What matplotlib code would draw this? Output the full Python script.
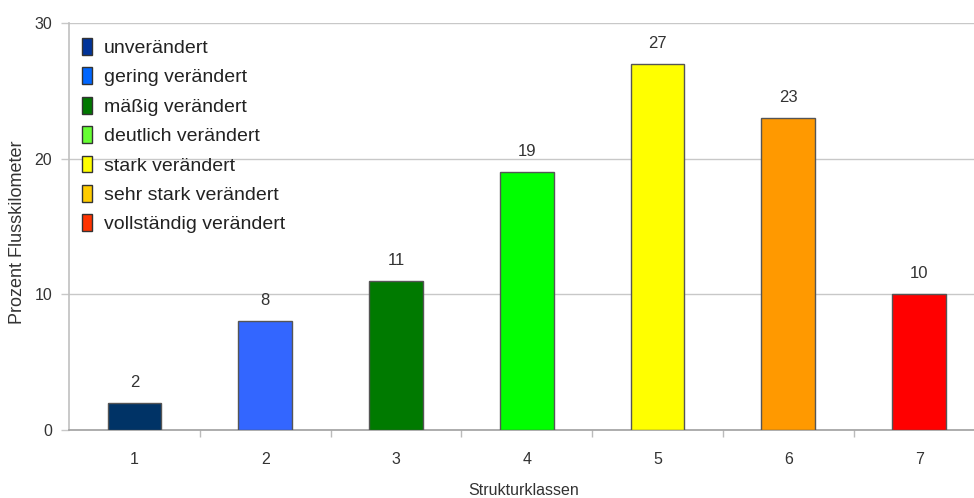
import matplotlib
matplotlib.use("Agg")
import matplotlib.pyplot as plt
from matplotlib.patches import Patch
import numpy as np

categories = [1, 2, 3, 4, 5, 6, 7]
values = [2, 8, 11, 19, 27, 23, 10]
bar_colors = ["#003366", "#3366ff", "#007a00", "#00ff00", "#ffff00", "#ff9900", "#ff0000"]
legend_labels = ["unverändert", "gering verändert", "mäßig verändert", "deutlich verändert",
                 "stark verändert", "sehr stark verändert", "vollständig verändert"]
legend_colors = ["#003399", "#0066ff", "#007700", "#66ff33", "#ffff00", "#ffcc00", "#ff3300"]
yticks = [0, 10, 20, 30]

plt.rcParams['font.family'] = ['Liberation Sans', 'DejaVu Sans']

fig = plt.figure(figsize=(9.74, 4.98), dpi=100)
ax = fig.add_axes([69/974, 1-430/498, 1-69/974, (430-23)/498])

ax.bar(categories, values, width=0.41, color=bar_colors, edgecolor="#555555",
       linewidth=1.0, zorder=3)

for x, v in zip(categories, values):
    ax.annotate(str(v), (x, v), xytext=(0, 11.5), textcoords="offset points",
                ha="center", va="baseline", fontsize=12, color="#333333")

ax.set_xlim(0.5, 7.42)
ax.set_ylim(0, 30)
ax.set_yticks(yticks)
ax.set_xticks(categories)
ax.set_xticks(np.arange(1.5, 7.5, 1.0), minor=True)

ax.grid(axis="y", color="#c8c8c8", linewidth=1.0, zorder=0)
ax.tick_params(axis="y", length=6, width=1.0, color="#c8c8c8", pad=6,
               labelsize=11.5, labelcolor="#333333")
ax.tick_params(axis="x", which="major", length=0, pad=16, labelsize=11.5, labelcolor="#333333")
ax.tick_params(axis="x", which="minor", length=5, width=1.0, color="#bbbbbb")

for s in ["top", "right"]:
    ax.spines[s].set_visible(False)
ax.spines["left"].set_color("#c0c0c0")
ax.spines["bottom"].set_color("#a0a0a0")
ax.spines["left"].set_linewidth(1.2)
ax.spines["bottom"].set_linewidth(1.2)

fig.text(18/974, 1-232/498, "Prozent Flusskilometer", rotation=90, ha="center", va="center",
         fontsize=13, color="#333333")
fig.text(524/974, 1-490/498, "Strukturklassen", ha="center", va="center",
         fontsize=11.5, color="#333333")

handles = [Patch(facecolor=c, edgecolor="#333333", linewidth=1.0) for c in legend_colors]
leg = ax.legend(handles, legend_labels, loc="upper left",
                bbox_to_anchor=(82/974, 1-38/498), bbox_transform=fig.transFigure,
                frameon=False, fontsize=14, handlelength=0.52, handleheight=0.95,
                handletextpad=0.6, labelspacing=0.53, borderpad=0, borderaxespad=0)
for t in leg.get_texts():
    t.set_color("#222222")

fig.savefig("out.png", dpi=100)
